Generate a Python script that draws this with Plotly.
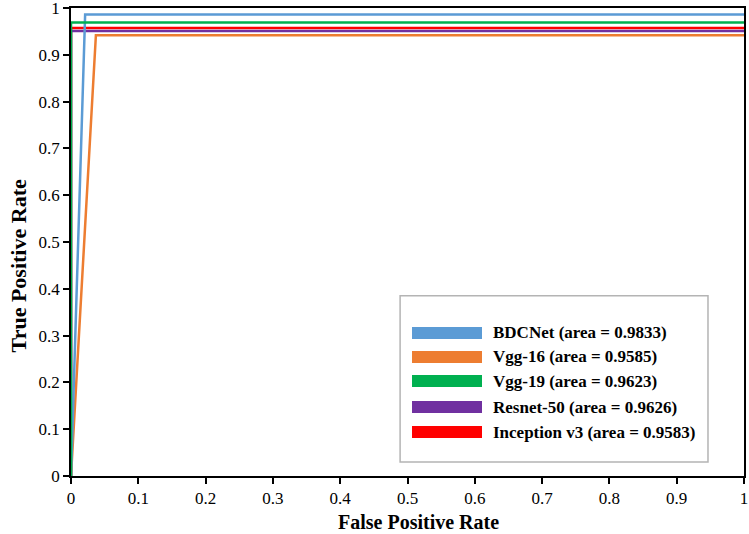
import plotly.graph_objects as go

# ROC data
models = ["BDCNet", "Vgg-16", "Vgg-19", "Resnet-50", "Inception v3"]
auc = ["0.9833", "0.9585", "0.9623", "0.9626", "0.9583"]
fpr_bdcnet = [0, 0.021, 1]
tpr_bdcnet = [0, 0.986, 0.986]
fpr_vgg16 = [0, 0.037, 1]
tpr_vgg16 = [0, 0.942, 0.942]
fpr_vgg19 = [0, 0, 1]
tpr_vgg19 = [0, 0.969, 0.969]
fpr_resnet50 = [0, 0, 1]
tpr_resnet50 = [0, 0.951, 0.951]
fpr_inception = [0, 0, 1]
tpr_inception = [0, 0.957, 0.957]
ticks = [0, 0.1, 0.2, 0.3, 0.4, 0.5, 0.6, 0.7, 0.8, 0.9, 1]
tick_text = ["0", "0.1", "0.2", "0.3", "0.4", "0.5", "0.6", "0.7", "0.8", "0.9", "1"]
x_title = "False Positive Rate"
y_title = "True Positive Rate"

colors = ["#5B9BD5", "#ED7D31", "#00B050", "#7030A0", "#FF0000"]
curves = [(fpr_bdcnet, tpr_bdcnet), (fpr_vgg16, tpr_vgg16), (fpr_vgg19, tpr_vgg19),
          (fpr_resnet50, tpr_resnet50), (fpr_inception, tpr_inception)]

fig = go.Figure()
draw_order = [4, 3, 1, 0, 2]
for i in draw_order:
    fx, ty = curves[i]
    fig.add_trace(go.Scatter(x=fx, y=ty, mode="lines", name=models[i],
                             line=dict(color=colors[i], width=2.5), showlegend=False))

serif = "Liberation Serif, Times New Roman, serif"

# manual legend box
shapes = [dict(type="rect", xref="x", yref="y", x0=0.489, x1=0.9465, y0=0.030, y1=0.385,
               line=dict(color="#B4B4B4", width=1.5), fillcolor="white", layer="above")]
annotations = []
row_y = [0.3056, 0.2543, 0.2030, 0.1474, 0.0940]
for i, m in enumerate(models):
    yc = row_y[i]
    shapes.append(dict(type="rect", xref="x", yref="y", x0=0.5067, x1=0.6107,
                       y0=yc - 0.0128, y1=yc + 0.0128, line=dict(width=0),
                       fillcolor=colors[i], layer="above"))
    annotations.append(dict(xref="x", yref="y", x=0.6235, y=yc, xanchor="left", yanchor="middle",
                            text=f"<b>{m} (area = {auc[i]})</b>", showarrow=False,
                            font=dict(family=serif, size=17, color="black")))

# axis titles
annotations.append(dict(xref="x", yref="paper", x=0.517, y=-0.098, xanchor="center", yanchor="middle",
                        text=f"<b>{x_title}</b>", showarrow=False,
                        font=dict(family=serif, size=20, color="black")))
annotations.append(dict(xref="paper", yref="y", x=-0.078, y=0.449, xanchor="center", yanchor="middle",
                        textangle=-90, text=f"<b>{y_title}</b>", showarrow=False,
                        font=dict(family=serif, size=22, color="black")))

fig.update_layout(
    width=749, height=534,
    margin=dict(l=71, r=5, t=8, b=58),
    paper_bgcolor="white", plot_bgcolor="white",
    shapes=shapes, annotations=annotations,
    font=dict(family=serif, size=17, color="black"),
    xaxis=dict(range=[0, 1], tickvals=ticks, ticktext=tick_text, ticks="outside", ticklen=6,
               tickwidth=1.5, tickcolor="black", showline=True, linecolor="black", linewidth=1.5,
               mirror=True, showgrid=False, zeroline=False, automargin=False,
               ticklabeloverflow="allow", tickfont=dict(family=serif, size=17)),
    yaxis=dict(range=[0, 1], tickvals=ticks, ticktext=tick_text, ticks="outside", ticklen=6,
               tickwidth=1.5, tickcolor="black", showline=True, linecolor="black", linewidth=1.5,
               mirror=True, showgrid=False, zeroline=False, automargin=False,
               ticklabeloverflow="allow", tickfont=dict(family=serif, size=17)),
)

fig.write_html("out.html", config={"displayModeBar": False},
               post_script="document.body.style.margin='0';document.body.style.overflow='hidden';")
